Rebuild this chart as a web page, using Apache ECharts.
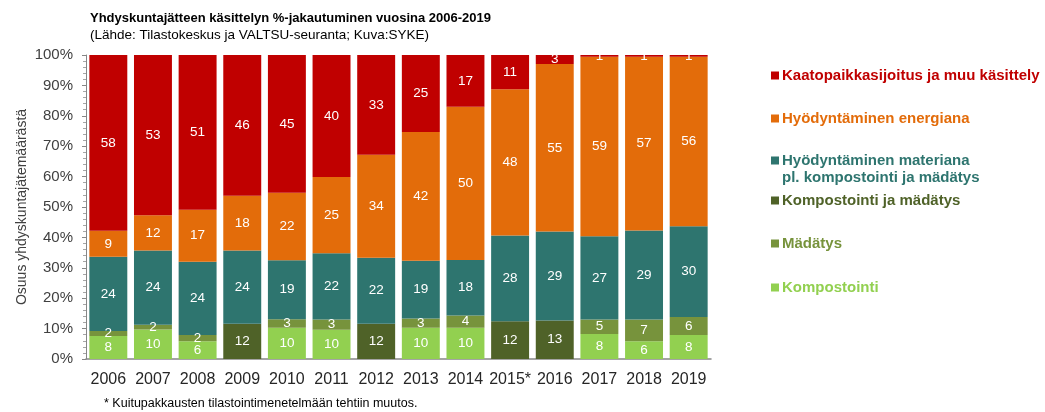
<!DOCTYPE html>
<html>
<head>
<meta charset="utf-8">
<script src="https://cdn.jsdelivr.net/npm/echarts@6/dist/echarts.min.js"></script>
<style>
  html, body { margin: 0; padding: 0; background: #fff; }
  #chart { width: 1045px; height: 412px; }
</style>
</head>
<body>
<div id="chart"></div>
<script>
var years = ['2006', '2007', '2008', '2009', '2010', '2011', '2012', '2013', '2014', '2015*', '2016', '2017', '2018', '2019']

// osuudet (%), luettu kuvasta
var kompostointi = [7.6, 9.7, 5.8, 0, 10.3, 9.6, 0, 10.3, 10.3, 0, 0, 8.2, 5.8, 7.9]
var madatys = [1.6, 1.6, 2.1, 0, 2.8, 3.4, 0, 3.0, 4.0, 0, 0, 4.8, 7.2, 5.9]
var kompJaMad = [0, 0, 0, 11.6, 0, 0, 11.6, 0, 0, 12.4, 12.7, 0, 0, 0]
var materiana = [24.4, 24.4, 24.1, 24.1, 19.4, 21.8, 21.7, 19.0, 18.3, 28.2, 29.2, 27.4, 29.3, 29.9]
var energiana = [8.6, 11.6, 17.1, 18.0, 22.2, 25.1, 33.9, 42.4, 50.4, 48.1, 55.1, 59.0, 57.1, 55.7]
var kaatopaikka = [57.8, 52.7, 50.9, 46.3, 45.3, 40.1, 32.8, 25.3, 17.0, 11.3, 3.0, 0.6, 0.6, 0.6]

var yTicks = ['0%', '10%', '20%', '30%', '40%', '50%', '60%', '70%', '80%', '90%', '100%']

var seriesDefs = [
  { name: 'Kompostointi', data: kompostointi, color: '#92d050', top: 279 },
  { name: 'Mädätys', data: madatys, color: '#77933c', top: 235 },
  { name: 'Kompostointi ja mädätys', data: kompJaMad, color: '#4f6228', top: 192 },
  { name: 'Hyödyntäminen materiana\npl. kompostointi ja mädätys', data: materiana, color: '#2e756f', top: 152 },
  { name: 'Hyödyntäminen energiana', data: energiana, color: '#e36c0a', top: 110 },
  { name: 'Kaatopaikkasijoitus ja muu käsittely', data: kaatopaikka, color: '#c00000', top: 67 },
]

var font = 'Liberation Sans, Arial, sans-serif'

var series = seriesDefs.map(function (s) {
  return {
    name: s.name,
    type: 'bar',
    stack: 'all',
    barCategoryGap: '15%',
    itemStyle: { color: s.color },
    label: {
      show: true,
      position: 'inside',
      color: '#fff',
      fontSize: 13.5,
      fontFamily: font,
      formatter: function (p) {
        return p.value > 0 ? Math.round(p.value) : ''
      },
    },
    data: s.data,
  }
})

var legends = seriesDefs.map(function (s) {
  var twoLines = s.name.indexOf('\n') >= 0
  return {
    data: [s.name],
    left: 771,
    top: s.top,
    padding: 0,
    // kaksirivisessä neliö ylärivin kohdalle
    icon: twoLines ? 'path://M0,0H8V8H0ZM0,25H0.05V25.05H0Z' : 'rect',
    itemWidth: 8,
    itemHeight: twoLines ? 26 : 8,
    itemGap: 0,
    selectedMode: false,
    textStyle: {
      color: s.color,
      fontSize: 15,
      fontWeight: 'bold',
      fontFamily: font,
      lineHeight: 17,
      padding: [0, 0, 0, -2],
    },
  }
})

var option = {
  animation: false,
  backgroundColor: '#fff',
  title: {
    text: 'Yhdyskuntajätteen käsittelyn %-jakautuminen vuosina 2006-2019',
    subtext: '(Lähde: Tilastokeskus ja VALTSU-seuranta; Kuva:SYKE)',
    left: 85,
    top: 7,
    itemGap: 3,
    textStyle: { fontSize: 13, fontWeight: 'bold', color: '#000', fontFamily: font },
    subtextStyle: { fontSize: 13.5, color: '#000', fontFamily: font },
  },
  legend: legends,
  grid: {
    left: 86,
    right: 334,
    top: 55,
    bottom: 53,
  },
  xAxis: {
    type: 'category',
    data: years,
    axisLine: { lineStyle: { color: '#868686', width: 1.5 } },
    axisTick: { show: false },
    axisLabel: { interval: 0, color: '#262626', fontSize: 16, fontFamily: font, margin: 13 },
  },
  yAxis: {
    type: 'value',
    min: 0,
    max: 100,
    interval: 10,
    name: 'Osuus yhdyskuntajätemäärästä',
    nameLocation: 'middle',
    nameRotate: 90,
    nameGap: 57,
    nameMoveOverlap: false,
    nameTextStyle: { color: '#404040', fontSize: 14, fontFamily: font },
    axisLine: { show: true, lineStyle: { color: '#868686' } },
    axisTick: { show: true, length: 4, lineStyle: { color: '#868686' } },
    minorTick: { show: true, splitNumber: 5, length: 3, lineStyle: { color: '#a6a6a6' } },
    splitLine: { show: false },
    axisLabel: {
      color: '#404040',
      fontSize: 15,
      fontFamily: font,
      margin: 13,
      formatter: function (v) {
        return yTicks[Math.round(v / 10)]
      },
    },
  },
  graphic: [
    {
      type: 'text',
      left: 104,
      top: 397,
      style: {
        text: '* Kuitupakkausten tilastointimenetelmään tehtiin muutos.',
        fontSize: 12.5,
        fontFamily: font,
        fill: '#000',
      },
    },
  ],
  series: series,
}

var myChart = echarts.init(document.getElementById('chart'))
myChart.setOption(option)
</script>
</body>
</html>
